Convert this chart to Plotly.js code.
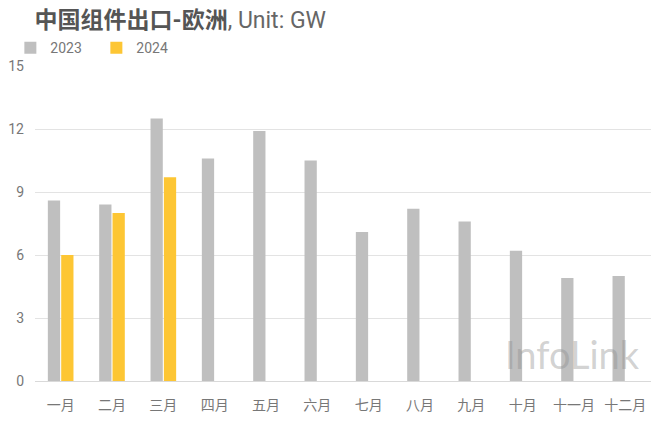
<!DOCTYPE html>
<html><head><meta charset="utf-8">
<script src="https://cdn.plot.ly/plotly-3.0.1.min.js"></script>
<style>body{margin:0;background:#fff}#c{width:653px;height:422px}</style>
</head><body><div id="c"></div>
<script>
const months = ['一月','二月','三月','四月','五月','六月','七月','八月','九月','十月','十一月','十二月'];
const v2023 = [8.6, 8.4, 12.5, 10.6, 11.9, 10.5, 7.1, 8.2, 7.6, 6.2, 4.9, 5.0];
const v2024 = [6.0, 8.0, 9.7];
const yTicks = [0, 3, 6, 9, 12, 15];

const font = 'Roboto, "Noto Sans CJK SC", sans-serif';
const data = [
  {type:'bar', name:'2023', x:months, y:v2023, marker:{color:'#BFBFBF'}},
  {type:'bar', name:'2024', x:months.slice(0, v2024.length), y:v2024, marker:{color:'#FDC634'}}
];
const layout = {
  width:653, height:422,
  margin:{l:35, r:2, t:66, b:41},
  paper_bgcolor:'#fff', plot_bgcolor:'#fff',
  font:{family:font, color:'#666', size:13},
  title:{text:'<b>中国组件出口-欧洲</b><span style="color:#666">, Unit: GW</span>', x:0.053, xanchor:'left', y:0.953, yanchor:'middle',
         font:{family:font, size:23, color:'#555'}},
  barmode:'group', bargap:0.48, bargroupgap:0.08,
  showlegend:true,
  legend:{orientation:'h', x:-0.04, xanchor:'left', y:1.057, yanchor:'middle', font:{size:14, color:'#777'},
          bgcolor:'rgba(0,0,0,0)', entrywidth:41, entrywidthmode:'pixels', traceorder:'normal', itemclick:false},
  xaxis:{type:'category', categoryarray:months, showgrid:false, showline:true, linecolor:'#d9d9d9', linewidth:1,
         ticks:'', tickfont:{size:14, color:'#777'}, ticklabelstandoff:11, fixedrange:true},
  yaxis:{range:[0,15], tickvals:yTicks, showgrid:true, gridcolor:'#e3e3e3', zeroline:false,
         ticks:'', tickfont:{size:14, color:'#777'}, ticklabelstandoff:10, fixedrange:true},
  annotations:[{text:'InfoLink', xref:'paper', yref:'paper', x:0.985, y:0.085, xanchor:'right', yanchor:'middle',
    showarrow:false, font:{family:'Lato, sans-serif', size:38, color:'rgba(140,140,140,0.4)'}}]
};
Plotly.newPlot('c', data, layout, {displayModeBar:false, staticPlot:true});
</script></body></html>
